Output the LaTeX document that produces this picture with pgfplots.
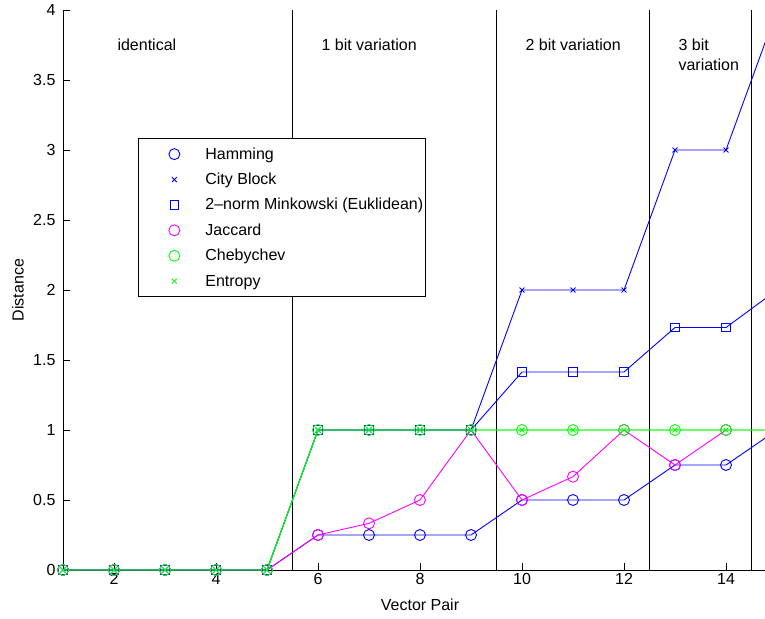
\documentclass[border=0pt]{standalone}
\usepackage{fontspec}
\setmainfont{Liberation Sans}
\usepackage{pgfplots}
\pgfplotsset{compat=1.18}
\definecolor{mblue}{rgb}{0,0,1}
\definecolor{mmag}{rgb}{1,0,1}
\definecolor{mgreen}{rgb}{0,1,0}
\newcommand{\chartfont}{\fontsize{16}{19}\selectfont}

\begin{document}
\begin{tikzpicture}
\begin{axis}[
  at={(0pt,0pt)}, anchor=south west,
  width=714pt, height=560pt, scale only axis,
  xmin=1, xmax=15, ymin=0, ymax=4,
  axis x line*=bottom, axis y line*=left,
  xtick={2,4,...,14}, ytick={0,0.5,...,4},
  tick align=inside, major tick length=7pt,
  tick style={black, line width=0.8pt},
  axis line style={black, line width=0.8pt},
  /pgf/number format/assume math mode=true,
  tick label style={font=\chartfont},
  yticklabel style={xshift=-4pt},
  xlabel={Vector Pair}, ylabel={Distance},
  label style={font=\chartfont},
  xlabel style={at={(axis description cs:0.5,-0.0625)}, anchor=center},
  ylabel style={at={(axis description cs:-0.063,0.5)}, anchor=center, rotate=0},
  legend cell align=left,
  legend style={at={(0.105,0.771)}, anchor=north west, draw=black,
    line width=0.8pt, fill=white, font=\chartfont,
    inner xsep=2.5pt, inner ysep=8pt, row sep=10.4pt, column sep=0pt,
    nodes={inner sep=0pt, text height=12.5pt, text depth=2.5pt}},
  legend image code/.code={%
    \path[draw=none, fill=none] (0pt,-5pt) rectangle (64.5pt,5pt);
    \draw[#1, only marks] plot coordinates {(33.5pt,0pt)};},
  every axis plot/.append style={line width=0.9pt},
]
% phase separators
\draw[black, line width=0.8pt] (axis cs:5.5,0) -- (axis cs:5.5,4);
\draw[black, line width=0.8pt] (axis cs:9.5,0) -- (axis cs:9.5,4);
\draw[black, line width=0.8pt] (axis cs:12.5,0) -- (axis cs:12.5,4);
\draw[black, line width=0.8pt] (axis cs:14.5,0) -- (axis cs:14.5,4);

\addplot[color=mblue, mark=o, mark size=5.5pt] coordinates {
  (1,0) (2,0) (3,0) (4,0) (5,0) (6,0.25) (7,0.25) (8,0.25) (9,0.25)
  (10,0.5) (11,0.5) (12,0.5) (13,0.75) (14,0.75) (15,1)};
\addlegendentry{Hamming}
\addplot[color=mblue, mark=x, mark size=3.5pt] coordinates {
  (1,0) (2,0) (3,0) (4,0) (5,0) (6,1) (7,1) (8,1) (9,1)
  (10,2) (11,2) (12,2) (13,3) (14,3) (15,4)};
\addlegendentry{City Block}
\addplot[color=mblue, mark=square, mark size=4.3pt] coordinates {
  (1,0) (2,0) (3,0) (4,0) (5,0) (6,1) (7,1) (8,1) (9,1)
  (10,1.4142) (11,1.4142) (12,1.4142) (13,1.7321) (14,1.7321) (15,2)};
\addlegendentry{2\textendash norm Minkowski (Euklidean)}
\addplot[color=mmag, mark=o, mark size=5.5pt] coordinates {
  (1,0) (2,0) (3,0) (4,0) (5,0) (6,0.25) (7,0.3333) (8,0.5) (9,1)
  (10,0.5) (11,0.6667) (12,1) (13,0.75) (14,1)};
\addlegendentry{Jaccard}
\addplot[color=mgreen, mark=o, mark size=5.5pt] coordinates {
  (1,0) (2,0) (3,0) (4,0) (5,0) (6,1) (7,1) (8,1) (9,1)
  (10,1) (11,1) (12,1) (13,1) (14,1) (15,1)};
\addlegendentry{Chebychev}
\addplot[color=mgreen, mark=x, mark size=3.5pt] coordinates {
  (1,0) (2,0) (3,0) (4,0) (5,0) (6,1) (7,1) (8,1) (9,1)
  (10,1) (11,1) (12,1) (13,1) (14,1) (15,1)};
\addlegendentry{Entropy}

\node[anchor=west, font=\chartfont] at (axis cs:2,3.75) {identical};
\node[anchor=west, font=\chartfont] at (axis cs:6,3.75) {1 bit variation};
\node[anchor=west, font=\chartfont] at (axis cs:10,3.75) {2 bit variation};
\node[anchor=west, font=\chartfont] at (axis cs:13,3.75) {3 bit};
\node[anchor=west, font=\chartfont] at (axis cs:13,3.607) {variation};
\end{axis}
\pgfresetboundingbox
\path[use as bounding box] (-63pt,-48pt) rectangle (702pt,570pt);
\end{tikzpicture}
\end{document}
